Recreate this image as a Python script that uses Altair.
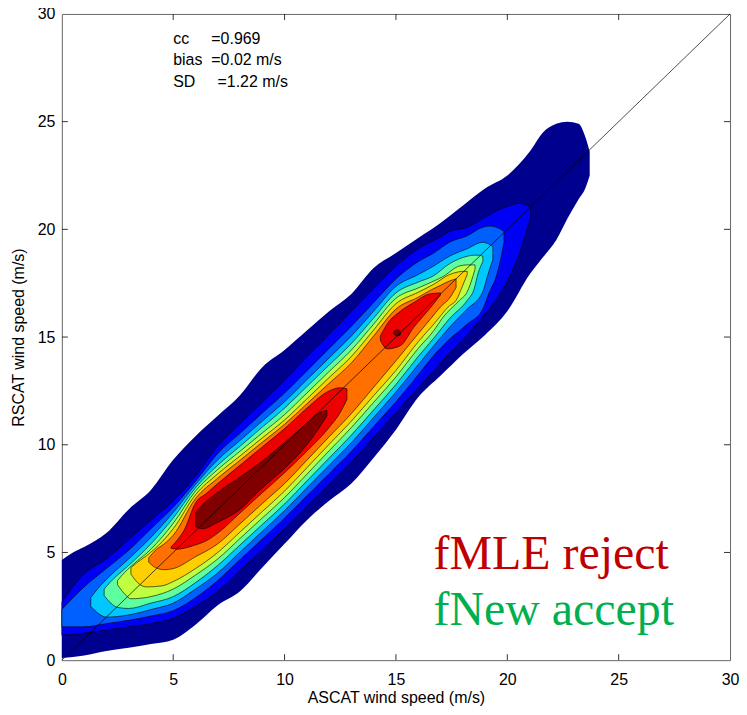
import altair as alt
import pandas as pd

# ---------------- data ----------------
tick_vals = [5, 10, 15, 20, 25]
axis_vals = [0, 5, 10, 15, 20, 25, 30]
diag_x = [0, 30]

# contour bands: x stations, lower boundary, upper boundary (m/s)
navy_x = [0, 0.5, 1, 2, 3, 4, 5, 6, 7, 8, 9, 10, 11, 12, 13, 14, 15, 16, 17, 18, 19, 20, 21, 21.6, 22.2, 22.7, 23.2, 23.5, 23.7]
navy_lo = [0.1, 0.15, 0.22, 0.43, 0.58, 0.75, 0.95, 1.65, 2.55, 3.2, 4.3, 5.4, 6.5, 7.4, 8.2, 9.4, 10.7, 12.2, 13.2, 14.2, 15.1, 16.2, 17.9, 18.7, 19.5, 20.5, 21.4, 21.9, 22.5]
navy_hi = [4.65, 5.0, 5.25, 5.9, 7.0, 7.9, 9.3, 10.4, 11.35, 12.3, 13.6, 14.4, 15.3, 16.2, 17.0, 18.2, 18.9, 19.6, 20.3, 21.1, 21.9, 22.5, 23.6, 24.5, 24.9, 25.0, 24.9, 24.3, 23.6]

blue_x = [0, 1, 2, 3, 4, 5, 6, 7, 8, 9, 10, 11, 12, 13, 14, 15, 16, 17, 17.4, 18.2, 18.9, 19.6, 20.1, 20.5, 20.8, 21.05]
blue_lo = [1.16, 1.25, 1.4, 1.55, 1.7, 1.95, 2.5, 3.2, 4.17, 5.13, 6.1, 7.13, 8.17, 9.2, 10.35, 11.5, 12.65, 13.8, 14.25, 15.1, 15.95, 16.9, 17.8, 18.75, 19.7, 20.6]
blue_hi = [2.7, 4.0, 4.7, 5.6, 6.5, 7.4, 8.55, 9.95, 10.97, 11.98, 13.0, 14.07, 15.13, 16.2, 17.25, 18.3, 19.1, 19.65, 19.9, 20.1, 20.5, 20.9, 21.1, 21.2, 21.15, 21.0]

mblue_x = [0, 0.5, 1, 2, 3, 4, 5, 6, 7, 8, 9, 10, 11, 12, 13, 14, 15, 16, 16.7, 17.4, 18.2, 18.9, 19.2, 19.5, 19.7, 19.85]
mblue_lo = [1.55, 1.55, 1.55, 1.7, 1.85, 2.05, 2.3, 2.9, 3.7, 4.67, 5.63, 6.6, 7.63, 8.67, 9.7, 10.85, 12.0, 13.25, 14.15, 14.9, 15.6, 16.3, 17.1, 17.8, 18.6, 19.4]
mblue_hi = [2.35, 2.9, 3.4, 4.25, 5.1, 6.1, 7.1, 8.3, 9.6, 10.53, 11.47, 12.4, 13.43, 14.47, 15.5, 16.6, 17.7, 18.5, 18.9, 19.4, 19.7, 20.1, 20.15, 20.1, 20.0, 19.9]

cyan_x = [1.3, 1.6, 2, 3, 4, 5, 6, 7, 8, 9, 10, 11, 12, 13, 14, 15, 16, 16.7, 17.4, 18.2, 18.9, 19.1, 19.35]
cyan_lo = [2.5, 2.2, 2.0, 2.1, 2.35, 2.65, 3.3, 4.05, 5.02, 5.98, 6.95, 8.0, 9.05, 10.1, 11.27, 12.45, 13.72, 14.6, 15.45, 16.3, 17.1, 17.8, 18.6]
cyan_hi = [2.9, 3.3, 3.75, 4.7, 5.7, 6.85, 8.15, 9.3, 10.2, 11.1, 12.0, 13.02, 14.03, 15.05, 16.2, 17.35, 17.9, 18.3, 18.75, 19.1, 19.4, 19.35, 19.2]

green_x = [1.9, 2.2, 2.5, 3, 4, 5, 6, 7, 8, 9, 10, 11, 12, 13, 14, 15, 16, 16.7, 17.4, 18.2, 18.5, 18.7, 18.9]
green_lo = [3.0, 2.65, 2.45, 2.4, 2.65, 2.95, 3.6, 4.4, 5.35, 6.3, 7.25, 8.32, 9.38, 10.45, 11.62, 12.8, 14.1, 14.95, 15.85, 16.7, 17.2, 18.0, 18.5]
green_hi = [3.3, 3.65, 3.95, 4.4, 5.4, 6.6, 8.0, 9.05, 9.93, 10.82, 11.7, 12.7, 13.7, 14.7, 15.88, 17.05, 17.55, 17.85, 18.4, 18.75, 18.8, 18.8, 18.75]

yg_x = [2.5, 2.8, 3.1, 4, 5, 6, 7, 8, 9, 10, 11, 12, 13, 14, 15, 16, 16.7, 17.1, 17.85, 18.2, 18.45, 18.55]
yg_lo = [3.5, 3.1, 2.85, 2.95, 3.3, 3.95, 4.7, 5.65, 6.6, 7.55, 8.63, 9.72, 10.8, 11.97, 13.15, 14.47, 15.3, 15.9, 16.7, 17.1, 17.8, 18.15]
yg_hi = [3.7, 4.05, 4.35, 5.15, 6.35, 7.85, 8.85, 9.7, 10.55, 11.4, 12.4, 13.4, 14.4, 15.6, 16.8, 17.28, 17.6, 17.8, 18.3, 18.35, 18.35, 18.35]

yel_x = [3.1, 3.4, 3.8, 4.5, 5, 6, 7, 8, 9, 10, 11, 12, 13, 14, 15, 16, 16.7, 17.4, 17.7, 18.0, 18.2]
yel_lo = [4.0, 3.6, 3.4, 3.45, 3.65, 4.25, 5.0, 5.95, 6.9, 7.85, 8.93, 10.02, 11.1, 12.28, 13.45, 14.78, 15.6, 16.45, 16.7, 17.4, 17.9]
yel_hi = [4.3, 4.55, 4.85, 5.5, 6.1, 7.68, 8.65, 9.48, 10.32, 11.15, 12.13, 13.12, 14.1, 15.33, 16.55, 17.08, 17.45, 17.9, 18.0, 18.05, 18.05]

org_x = [3.9, 4.2, 4.6, 5, 6, 7, 8, 9, 10, 11, 12, 13, 14, 15, 16, 16.6, 17.0, 17.4, 17.7]
org_lo = [4.55, 4.3, 4.2, 4.25, 4.8, 5.4, 6.33, 7.27, 8.2, 9.28, 10.37, 11.45, 12.67, 13.9, 15.15, 15.9, 16.4, 16.8, 17.3]
org_hi = [4.75, 5.1, 5.4, 5.8, 7.5, 8.45, 9.28, 10.12, 10.95, 11.9, 12.85, 13.8, 15.05, 16.3, 16.85, 17.2, 17.4, 17.6, 17.7]

redA_x = [4.9, 5.2, 5.5, 6, 6.5, 7, 8, 9, 10, 11, 12, 12.5, 12.8]
redA_lo = [5.2, 5.15, 5.2, 5.35, 5.55, 5.9, 6.83, 7.77, 8.7, 9.7, 10.8, 11.5, 12.1]
redA_hi = [5.25, 5.6, 6.05, 7.3, 7.75, 8.2, 9.05, 9.9, 10.75, 11.7, 12.5, 12.65, 12.6]

redB_x = [14.3, 14.6, 15.2, 15.8, 16.5, 17.0]
redB_lo = [14.85, 14.45, 14.6, 15.45, 16.3, 16.95]
redB_hi = [15.05, 15.6, 16.2, 16.6, 17.0, 17.05]

dredA_x = [6.0, 6.3, 7, 8, 9, 10, 11, 11.5, 11.9]
dredA_lo = [6.2, 6.1, 6.4, 7.0, 8.0, 8.9, 10.0, 10.7, 11.35]
dredA_hi = [6.85, 7.2, 7.8, 8.5, 9.25, 10.1, 11.0, 11.45, 11.6]

dredB_x = [14.9, 15.05, 15.2]
dredB_lo = [15.15, 15.05, 15.1]
dredB_hi = [15.25, 15.35, 15.25]

stat_x = [5, 5, 5]
stat_y = [28.85, 27.85, 26.85]
stat_text = ["cc\u00a0\u00a0\u00a0\u00a0\u00a0=0.969",
             "bias\u00a0\u00a0=0.02 m/s",
             "SD\u00a0\u00a0\u00a0\u00a0\u00a0=1.22 m/s"]

note_x = [16.69]
note1_y = [4.21]
note2_y = [1.62]

# ---------------- styling ----------------
W, H = 670, 648
FONT = "Liberation Sans"
xscale = alt.Scale(domain=[0, 30], nice=False, zero=False)
yscale = alt.Scale(domain=[0, 30], nice=False, zero=False)
xaxis = alt.Axis(title="ASCAT wind speed (m/s)", values=axis_vals, ticks=False, tickSize=0,
                 domain=False, grid=False, labelFont=FONT, labelFontSize=16, labelColor="black",
                 labelPadding=11, labelFlush=False, labelOverlap=False,
                 titleFont=FONT, titleFontSize=16, titleFontWeight="normal", titleColor="black",
                 titlePadding=2)
yaxis = alt.Axis(title="RSCAT wind speed (m/s)", values=axis_vals, ticks=False, tickSize=0,
                 domain=False, grid=False, labelFont=FONT, labelFontSize=16, labelColor="black",
                 labelPadding=7, labelFlush=False, labelOverlap=False,
                 titleFont=FONT, titleFontSize=16, titleFontWeight="normal", titleColor="black",
                 titlePadding=11)


def X(f):
    return alt.X(f, scale=xscale, axis=xaxis)


def Y(f):
    return alt.Y(f, scale=yscale, axis=yaxis)


def band(xs, lo, hi, color, outline=True):
    df = pd.DataFrame({"x": xs, "lo": lo, "hi": hi})
    kw = dict(fill=color, interpolate="monotone", opacity=1)
    if outline:
        kw.update(stroke="black", strokeWidth=0.6)
    else:
        kw.update(strokeWidth=0)
    return alt.Chart(df).mark_area(**kw).encode(x=X("x:Q"), y=Y("lo:Q"), y2="hi:Q")


layers = [
    band(navy_x, navy_lo, navy_hi, "#00008F", outline=False),
    band(blue_x, blue_lo, blue_hi, "#0000F5"),
    band(mblue_x, mblue_lo, mblue_hi, "#0060FF"),
    band(cyan_x, cyan_lo, cyan_hi, "#00C8FF"),
    band(green_x, green_lo, green_hi, "#5FFFA0"),
    band(yg_x, yg_lo, yg_hi, "#BFFF40"),
    band(yel_x, yel_lo, yel_hi, "#FFCF00"),
    band(org_x, org_lo, org_hi, "#FF7000"),
    band(redA_x, redA_lo, redA_hi, "#EE0000"),
    band(redB_x, redB_lo, redB_hi, "#EE0000"),
    band(dredA_x, dredA_lo, dredA_hi, "#800000"),
    band(dredB_x, dredB_lo, dredB_hi, "#800000"),
]

diag = alt.Chart(pd.DataFrame({"x": diag_x, "y": diag_x})).mark_line(
    color="black", strokeWidth=0.7).encode(x=X("x:Q"), y=Y("y:Q"))

tdf = pd.DataFrame({"t": tick_vals})
tick_color = "#333333"
tb = alt.Chart(tdf).mark_rule(color=tick_color, strokeWidth=1).encode(
    x=X("t:Q"), y=alt.value(H), y2=alt.value(H - 6))
tt = alt.Chart(tdf).mark_rule(color=tick_color, strokeWidth=1).encode(
    x=X("t:Q"), y=alt.value(0), y2=alt.value(6))
tl = alt.Chart(tdf).mark_rule(color=tick_color, strokeWidth=1).encode(
    y=Y("t:Q"), x=alt.value(0), x2=alt.value(6))
tr = alt.Chart(tdf).mark_rule(color=tick_color, strokeWidth=1).encode(
    y=Y("t:Q"), x=alt.value(W), x2=alt.value(W - 6))

stats = alt.Chart(pd.DataFrame({"x": stat_x, "y": stat_y, "t": stat_text})).mark_text(
    align="left", baseline="middle", font=FONT, fontSize=16, color="black").encode(
    x=X("x:Q"), y=Y("y:Q"), text="t:N")

note1 = alt.Chart(pd.DataFrame({"x": note_x, "y": note1_y, "t": ["fMLE reject"]})).mark_text(
    align="left", baseline="alphabetic", font="Liberation Serif", fontSize=48, color="#C00000").encode(
    x=X("x:Q"), y=Y("y:Q"), text="t:N")
note2 = alt.Chart(pd.DataFrame({"x": note_x, "y": note2_y, "t": ["fNew accept"]})).mark_text(
    align="left", baseline="alphabetic", font="Liberation Serif", fontSize=48, color="#00B050").encode(
    x=X("x:Q"), y=Y("y:Q"), text="t:N")

chart = alt.layer(*layers, diag, tb, tt, tl, tr, stats, note1, note2).properties(
    width=W, height=H,
    padding={"left": 54, "top": 5, "right": 9, "bottom": 46},
    autosize=alt.AutoSizeParams(type="none"),
).configure_view(stroke="#666666", strokeWidth=1)

chart.save("out.html", embed_options={"renderer": "svg", "actions": False})
